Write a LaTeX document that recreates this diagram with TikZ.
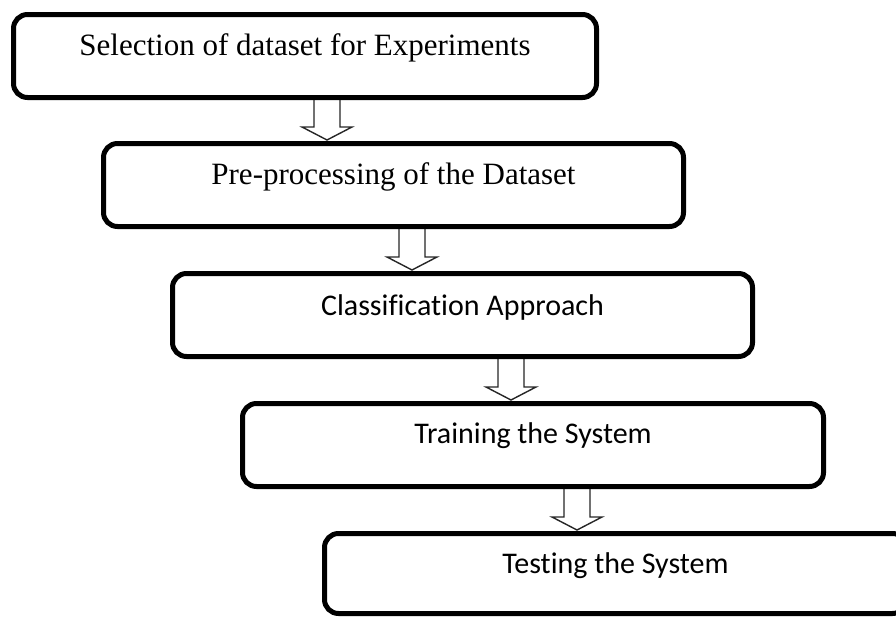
\documentclass[tikz,border=0pt]{standalone}
\usepackage{fontspec}
\setmainfont{Liberation Serif}
\newfontfamily\calibrilike[Ligatures=NoCommon]{Carlito}
\usetikzlibrary{calc}

\tikzset{
  stage/.style={draw=black, line width=5pt, rounded corners=14pt, fill=white,
    minimum height=83pt, inner sep=0pt, anchor=north west},
  serifcap/.style={font=\fontsize{31}{33}\selectfont, inner sep=0pt},
  sanscap/.style={font=\calibrilike\fontsize{30}{32}\selectfont, inner sep=0pt},
  hollowarrow/.style={draw=black!85, line width=1.4pt, fill=white, line join=miter}
}

% hollow block arrow from the bottom of one stage to the top of the next
\newcommand{\blockarrow}[2]{%
  \draw[hollowarrow]
    ($(#1)+(-13,0)$) -- ($(#2)+(-13,-13)$) -- ($(#2)+(-25,-13)$) --
    (#2) -- ($(#2)+(25,-13)$) -- ($(#2)+(13,-13)$) -- ($(#1)+(13,0)$) -- cycle;}

\begin{document}
\begin{tikzpicture}[x=1pt, y=-1pt]
  \useasboundingbox (0,0) rectangle (896,616);
  \clip (0,0) rectangle (896,616);

  % arrow end points
  \coordinate (a1s) at (327,94);  \coordinate (a1e) at (327,140);
  \coordinate (a2s) at (412,224); \coordinate (a2e) at (412,270);
  \coordinate (a3s) at (511,354); \coordinate (a3e) at (511,400);
  \coordinate (a4s) at (577,484); \coordinate (a4e) at (577,530);

  \blockarrow{a1s}{a1e}
  \blockarrow{a2s}{a2e}
  \blockarrow{a3s}{a3e}
  \blockarrow{a4s}{a4e}

  % stages
  \node[stage, minimum width=583pt] (b1) at (11,12) {};
  \node[stage, minimum width=580pt] (b2) at (101,141) {};
  \node[stage, minimum width=580pt] (b3) at (170,271) {};
  \node[stage, minimum width=581pt] (b4) at (240,401) {};
  \node[stage, minimum width=582pt, minimum height=80pt] (b5) at (322,531) {};

  % captions
  \node[serifcap] (t1) at ($(b1.center)+(0,-8)$) {Selection of dataset for Experiments};
  \node[serifcap] (t2) at ($(b2.center)+(0,-8)$) {Pre-processing of the Dataset};
  \node[sanscap] (t3) at ($(b3.center)+(0,-8)$) {Classification Approach};
  \node[sanscap] (t4) at ($(b4.center)+(0,-9)$) {Training the System};
  \node[sanscap] (t5) at ($(b5.center)+(0,-8)$) {Testing the System};
\end{tikzpicture}
\end{document}
